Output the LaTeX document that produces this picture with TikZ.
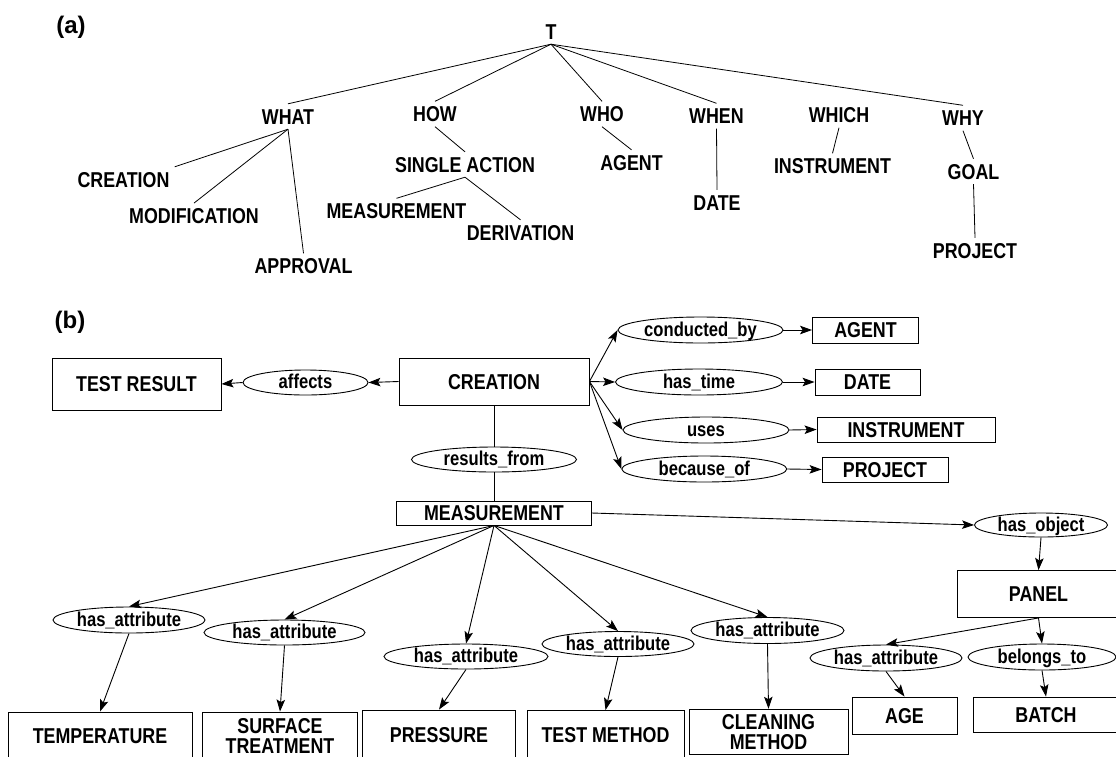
\documentclass[tikz,border=0pt]{standalone}
\usepackage{fontspec}
\setmainfont{Liberation Sans}[FakeStretch=0.83]
\newfontfamily\panelfont{Liberation Sans}
\usetikzlibrary{arrows.meta,shapes.geometric}

\begin{document}
\begin{tikzpicture}[x=1pt,y=-1pt,
	font=\bfseries\fontsize{21.5}{20}\selectfont,
	panel/.style={font=\panelfont\bfseries\fontsize{24}{24}\selectfont},
	term/.style={inner sep=5pt,text height=15pt,text depth=0pt},
	frame/.style={draw,line width=0.9pt,inner sep=0pt,align=center},
	box/.style={frame,text height=15pt,text depth=0pt},
	rel/.style={draw,ellipse,line width=0.9pt,inner sep=0pt,text height=13.5pt,text depth=1pt,minimum height=26pt,font=\bfseries\fontsize{20}{20}\selectfont},
	arr/.style={line width=0.9pt,-{Stealth[length=12pt,width=8.5pt,inset=2.5pt]}},
	link/.style={line width=0.8pt}]
			%%%%% FRAME %%%%%
			\useasboundingbox (0,0) rectangle (1116,756);
			\clip (0,0) rectangle (1116,756);
			
			%%%%% (a) %%%%%
			\node[panel] (lbla) at (71,27) {(a)};
			
			\node[term] (t) at (551,31.5) {T};
			\node[term] (what) at (288,116.5) {WHAT};
			\node[term] (how) at (435,114) {HOW};
			\node[term] (who) at (602,114) {WHO};
			\node[term] (when) at (716.5,116) {WHEN};
			\node[term] (which) at (839,115) {WHICH};
			\node[term] (why) at (963,118) {WHY};
			
			\node[term] (acreation) at (123.5,179.5) {CREATION};
			\node[term] (amodif) at (194,215.8) {MODIFICATION};
			\node[term] (aapprov) at (303.5,266) {APPROVAL};
			\node[term] (asingle) at (465,164.5) {SINGLE ACTION};
			\node[term] (ameas) at (396.5,211) {MEASUREMENT};
			\node[term] (aderiv) at (520.5,232.5) {DERIVATION};
			\node[term] (aagent) at (631.5,162.5) {AGENT};
			\node[term] (adate) at (717,202.5) {DATE};
			\node[term] (ainstr) at (832.5,166) {INSTRUMENT};
			\node[term] (agoal) at (973.5,171.5) {GOAL};
			\node[term] (aproject) at (975,250.5) {PROJECT};
			
			\draw[link] (t.south) -- (what.north);
			\draw[link] (t.south) -- (how.north);
			\draw[link] (t.south) -- (who.north);
			\draw[link] (t.south) -- (when.north);
			\draw[link] (t.south) -- (why.north);
			
			\draw[link] (what.south) -- (acreation.north east);
			\draw[link] (what.south) -- (amodif.north);
			\draw[link] (what.south) -- (aapprov.north);
			\draw[link] (how.south) -- (asingle.north);
			\draw[link] (asingle.south) -- (ameas.north);
			\draw[link] (asingle.south) -- (aderiv.north);
			\draw[link] (who.south) -- (aagent.north);
			\draw[link] (when.south) -- (adate.north);
			\draw[link] (which.south) -- (ainstr.north);
			\draw[link] (why.south) -- (agoal.north);
			\draw[link] (agoal.south) -- (aproject.north);
			
			%%%%% (b) %%%%%
			\node[panel] (lblb) at (70,322) {(b)};
			
			\node[box,minimum width=169pt,minimum height=52pt] (result) at (136.5,384) {TEST RESULT};
			\node[box,minimum width=190pt,minimum height=47pt] (creation) at (494,381.5) {CREATION};
			\node[rel,minimum width=125pt,minimum height=25pt] (affects) at (305.5,382.5) {affects};
			
			\node[rel,minimum width=165pt] (conducted) at (700.5,330) {conducted\_by};
			\node[rel,minimum width=167pt] (hastime) at (699,382) {has\_time};
			\node[rel,minimum width=166pt] (uses) at (706,430) {uses};
			\node[rel,minimum width=165pt] (because) at (704.3,469) {because\_of};
			
			\node[box,minimum width=106pt,minimum height=26pt] (agent) at (865.5,330) {AGENT};
			\node[box,minimum width=105pt,minimum height=26pt] (date) at (867.5,382) {DATE};
			\node[box,minimum width=178pt,minimum height=25pt] (instr) at (906,429.5) {INSTRUMENT};
			\node[box,minimum width=126pt,minimum height=25pt] (project) at (885,469.5) {PROJECT};
			
			\node[rel,minimum width=165pt,minimum height=25pt] (results) at (494,459.5) {results\_from};
			\node[box,minimum width=195pt,minimum height=24pt] (meas) at (494,513) {MEASUREMENT};
			
			\draw[arr] (creation.west) -- (affects.east);
			\draw[arr] (affects.west) -- (result.east);
			\draw[arr] (creation.east) -- (conducted.west);
			\draw[arr] (creation.east) -- (hastime.west);
			\draw[arr] (creation.east) -- (uses.west);
			\draw[arr] (creation.east) -- (because.west);
			\draw[arr] (conducted.east) -- (agent.west);
			\draw[arr] (hastime.east) -- (date.west);
			\draw[arr] (uses.east) -- (instr.west);
			\draw[arr] (because.east) -- (project.west);
			\draw[link] (creation.south) -- (results.north);
			\draw[link] (results.south) -- (meas.north);
			
			%%%%% MEASUREMENT ATTRIBUTES %%%%%
			\node[rel,minimum width=152pt] (attr1) at (129,620) {has\_attribute};
			\node[rel,minimum width=161pt,minimum height=25pt] (attr2) at (284.5,632.5) {has\_attribute};
			\node[rel,minimum width=164pt,minimum height=25pt] (attr3) at (466,656.5) {has\_attribute};
			\node[rel,minimum width=152pt,minimum height=25pt] (attr4) at (618,644) {has\_attribute};
			\node[rel,minimum width=153pt] (attr5) at (767.5,630.5) {has\_attribute};
			\node[rel,minimum width=133pt,minimum height=24pt] (hasobj) at (1041,525) {has\_object};
			
			\node[box,minimum width=184pt,minimum height=48pt] (temp) at (100,736) {TEMPERATURE};
			\node[frame,minimum width=155pt,minimum height=48pt] (surf) at (280,736) {SURFACE\\TREATMENT};
			\node[box,minimum width=153pt,minimum height=50pt] (press) at (439,735) {PRESSURE};
			\node[box,minimum width=157pt,minimum height=49pt] (method) at (605.5,735) {TEST METHOD};
			\node[frame,minimum width=159pt,minimum height=45pt] (clean) at (768.5,731.7) {CLEANING\\METHOD};
			
			\draw[arr] (meas.south) -- (attr1.north);
			\draw[arr] (meas.south) -- (attr2.north);
			\draw[arr] (meas.south) -- (attr3.north);
			\draw[arr] (meas.south) -- (attr4.north);
			\draw[arr] (meas.south) -- (attr5.north);
			\draw[arr] (meas.east) -- (hasobj.west);
			
			\draw[arr] (attr1.south) -- (temp.north);
			\draw[arr] (attr2.south) -- (surf.north);
			\draw[arr] (attr3.south) -- (press.north);
			\draw[arr] (attr4.south) -- (method.north);
			\draw[arr] (attr5.south) -- (clean.north);
			
			%%%%% PANEL %%%%%
			\node[box,minimum width=162pt,minimum height=47pt] (panel) at (1038.5,594) {PANEL};
			\node[rel,minimum width=152pt] (attr6) at (886,658) {has\_attribute};
			\node[rel,minimum width=148pt] (belongs) at (1042,657) {belongs\_to};
			\node[box,minimum width=105pt,minimum height=37pt] (age) at (904.5,715.5) {AGE};
			\node[box,minimum width=145pt,minimum height=35pt] (batch) at (1046,714.5) {BATCH};
			
			\draw[arr] (hasobj.south) -- (panel.north);
			\draw[arr] (panel.south) -- (attr6.north);
			\draw[arr] (panel.south) -- (belongs.north);
			\draw[arr] (attr6.south) -- (age.north);
			\draw[arr] (belongs.south) -- (batch.north);
			
\end{tikzpicture}
\end{document}
